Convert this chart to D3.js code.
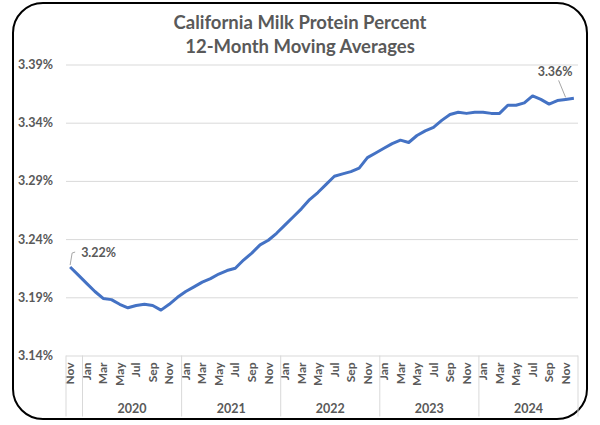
<!DOCTYPE html>
<html>
<head>
<meta charset="utf-8">
<script src="https://cdn.jsdelivr.net/npm/d3@7"></script>
<style>
  body { margin: 0; background: #fff; }
  text { font-family: Lato, "Open Sans", sans-serif; font-weight: bold; fill: #595959; }
</style>
</head>
<body>
<div id="chart"></div>
<script>
// months from Nov 2019 to Dec 2024
const months = ["Nov", "Dec",
  "Jan", "Feb", "Mar", "Apr", "May", "Jun", "Jul", "Aug", "Sep", "Oct", "Nov", "Dec",
  "Jan", "Feb", "Mar", "Apr", "May", "Jun", "Jul", "Aug", "Sep", "Oct", "Nov", "Dec",
  "Jan", "Feb", "Mar", "Apr", "May", "Jun", "Jul", "Aug", "Sep", "Oct", "Nov", "Dec",
  "Jan", "Feb", "Mar", "Apr", "May", "Jun", "Jul", "Aug", "Sep", "Oct", "Nov", "Dec",
  "Jan", "Feb", "Mar", "Apr", "May", "Jun", "Jul", "Aug", "Sep", "Oct", "Nov", "Dec"];
const years = [2019, 2019,
  2020, 2020, 2020, 2020, 2020, 2020, 2020, 2020, 2020, 2020, 2020, 2020,
  2021, 2021, 2021, 2021, 2021, 2021, 2021, 2021, 2021, 2021, 2021, 2021,
  2022, 2022, 2022, 2022, 2022, 2022, 2022, 2022, 2022, 2022, 2022, 2022,
  2023, 2023, 2023, 2023, 2023, 2023, 2023, 2023, 2023, 2023, 2023, 2023,
  2024, 2024, 2024, 2024, 2024, 2024, 2024, 2024, 2024, 2024, 2024, 2024];
// 12-month moving average protein %
const protein = [3.216, 3.209,
  3.202, 3.195, 3.189, 3.188, 3.184, 3.181, 3.183, 3.184, 3.183, 3.179, 3.184, 3.190,
  3.195, 3.199, 3.203, 3.206, 3.210, 3.213, 3.215, 3.222, 3.228, 3.235, 3.239, 3.245,
  3.252, 3.259, 3.266, 3.274, 3.280, 3.287, 3.294, 3.296, 3.298, 3.301, 3.310, 3.314,
  3.318, 3.322, 3.325, 3.323, 3.329, 3.333, 3.336, 3.342, 3.347, 3.349, 3.348, 3.349,
  3.349, 3.348, 3.348, 3.355, 3.355, 3.357, 3.363, 3.360, 3.356, 3.359, 3.360, 3.361];
const yTicks = [3.14, 3.19, 3.24, 3.29, 3.34, 3.39];
const yearLabels = ["", "2020", "2021", "2022", "2023", "2024"];
const callouts = [{ idx: 0, text: "3.22%" }, { idx: 60, text: "3.36%" }];

const W = 600, H = 425;
const margin = { top: 64.5, right: 22, bottom: 69.5, left: 66 };
const width = W - margin.left - margin.right,
  height = H - margin.top - margin.bottom;

const data = protein.map((v, i) => ({ key: i, month: months[i], year: years[i], value: v }));

const svg = d3.select("#chart").append("svg")
  .attr("width", W)
  .attr("height", H);

// rounded frame
svg.append("rect")
  .attr("x", 13).attr("y", 3)
  .attr("width", 574).attr("height", 416)
  .attr("rx", 30).attr("ry", 30)
  .attr("fill", "white")
  .attr("stroke", "black")
  .attr("stroke-width", 2);

// title
const title = svg.append("text")
  .attr("text-anchor", "middle")
  .style("font-size", "18.5px");
title.append("tspan").attr("x", 300).attr("y", 29).text("California Milk Protein Percent");
title.append("tspan").attr("x", 300).attr("y", 53).text("12-Month Moving Averages");

const g = svg.append("g")
  .attr("transform", "translate(" + margin.left + "," + margin.top + ")");

const x = d3.scaleBand()
  .domain(data.map(d => d.key))
  .range([0, width]);
const y = d3.scaleLinear()
  .domain([3.14, 3.39])
  .range([height, 0]);

// y axis + gridlines
const yAxis = g.append("g")
  .call(d3.axisLeft(y).tickValues(yTicks).tickSize(-width).tickPadding(13)
    .tickFormat(d => d3.format(".2f")(d) + "%"));
yAxis.select(".domain").remove();
yAxis.selectAll("line").attr("stroke", "#d9d9d9");
yAxis.selectAll("text").style("font-size", "12.5px").attr("fill", "#595959");

// x axis, months every other category
const xAxis = g.append("g")
  .attr("transform", "translate(0," + height + ")")
  .call(d3.axisBottom(x)
    .tickValues(data.filter((d, i) => i % 2 === 0).map(d => d.key))
    .tickSize(0)
    .tickFormat(k => months[k]));
xAxis.select(".domain").remove();
xAxis.selectAll("text")
  .attr("transform", "rotate(-90)")
  .attr("text-anchor", "end")
  .attr("x", -7)
  .attr("y", 0)
  .attr("dy", "0.35em")
  .attr("fill", "#595959")
  .style("font-size", "12px");

// year groups
const groups = d3.groups(data, d => d.year);
const bounds = [0];
groups.forEach(([yr, rows]) => bounds.push(x(rows[rows.length - 1].key) + x.bandwidth()));

g.append("g").selectAll("line")
  .data(bounds)
  .enter()
  .append("line")
  .attr("x1", d => d).attr("x2", d => d)
  .attr("y1", height).attr("y2", height + 61)
  .attr("stroke", "#d9d9d9");

g.append("g").selectAll("text")
  .data(groups)
  .enter()
  .append("text")
  .attr("x", (d, i) => (bounds[i] + bounds[i + 1]) / 2)
  .attr("y", height + 57)
  .attr("text-anchor", "middle")
  .style("font-size", "12.5px")
  .text((d, i) => yearLabels[i]);

// the line
const line = d3.line()
  .x(d => x(d.key) + x.bandwidth() / 2)
  .y(d => y(d.value));

g.append("path")
  .datum(data)
  .attr("fill", "none")
  .attr("stroke", "#4472c4")
  .attr("stroke-width", 3)
  .attr("stroke-linejoin", "round")
  .attr("d", line);

// data callouts
const c0 = data[callouts[0].idx];
const cx0 = x(c0.key) + x.bandwidth() / 2, cy0 = y(c0.value);
g.append("path")
  .attr("d", "M" + cx0 + "," + (cy0 - 2) + "L" + (cx0 + 2) + "," + (cy0 - 14) + "L" + (cx0 + 5) + "," + (cy0 - 15))
  .attr("fill", "none").attr("stroke", "#a6a6a6");
g.append("text")
  .attr("x", cx0 + 11).attr("y", cy0 - 10)
  .style("font-size", "12.5px")
  .attr("fill", "#404040")
  .text(callouts[0].text);

const c1 = data[callouts[1].idx];
const cx1 = x(c1.key) + x.bandwidth() / 2, cy1 = y(c1.value);
g.append("line")
  .attr("x1", cx1).attr("y1", cy1 - 2)
  .attr("x2", cx1 - 7).attr("y2", cy1 - 19)
  .attr("stroke", "#a6a6a6");
g.append("text")
  .attr("x", cx1 + 7).attr("y", cy1 - 23)
  .attr("text-anchor", "end")
  .style("font-size", "12.5px")
  .attr("fill", "#404040")
  .text(callouts[1].text);
</script>
</body>
</html>
